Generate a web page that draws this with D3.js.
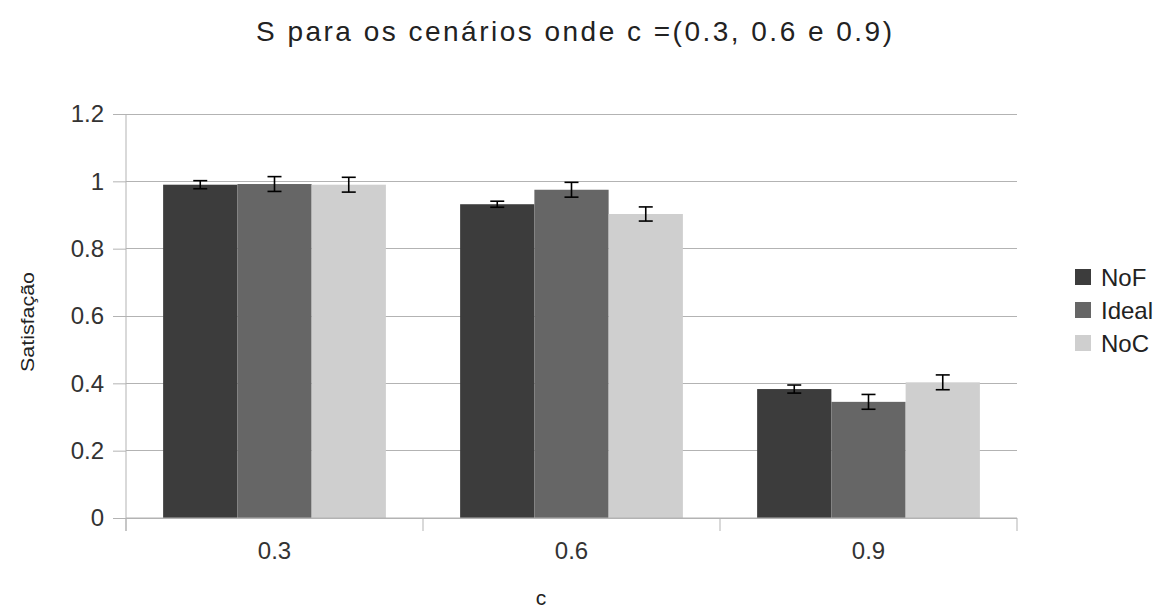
<!DOCTYPE html>
<html><head><meta charset="utf-8">
<script src="https://cdn.jsdelivr.net/npm/d3@7"></script>
<style>body{margin:0;background:#fff;} text{font-family:"Liberation Sans",Arial,sans-serif;}</style>
</head><body>
<svg id="chart" width="1160" height="612"></svg>
<script>
const categories = ["0.3", "0.6", "0.9"];
const seriesNames = ["NoF", "Ideal", "NoC"];
const seriesColors = ["#3c3c3c", "#666666", "#cfcfcf"];
const noF = [0.99, 0.932, 0.383];
const ideal = [0.992, 0.975, 0.345];
const noC = [0.99, 0.903, 0.403];
const noFErr = [0.012, 0.009, 0.012];
const idealErr = [0.022, 0.022, 0.022];
const noCErr = [0.022, 0.021, 0.022];
const yTicks = [0, 0.2, 0.4, 0.6, 0.8, 1, 1.2];
const yTickLabels = ["0", "0.2", "0.4", "0.6", "0.8", "1", "1.2"];

const values = [noF, ideal, noC];
const errs = [noFErr, idealErr, noCErr];

const svg = d3.select("#chart");
const m = {left: 126, right: 1017, top: 114, bottom: 518};

const x0 = d3.scaleBand().domain(categories).range([m.left, m.right]).paddingInner(0).paddingOuter(0);
const x1 = d3.scaleBand().domain(seriesNames).range([0, x0.bandwidth()]).paddingInner(0).paddingOuter(0.5);
const y = d3.scaleLinear().domain([0, 1.2]).range([m.bottom, m.top]);

// gridlines
svg.append("g").selectAll("line").data(yTicks).join("line")
  .attr("x1", m.left).attr("x2", m.right)
  .attr("y1", d => y(d)).attr("y2", d => y(d))
  .attr("stroke", "#b3b3b3").attr("stroke-width", 1).attr("shape-rendering", "crispEdges");

// bars
const groups = svg.append("g").selectAll("g").data(categories).join("g")
  .attr("transform", c => `translate(${x0(c)},0)`);
groups.each(function(c, ci) {
  const g = d3.select(this);
  seriesNames.forEach((s, si) => {
    const v = values[si][ci];
    g.append("rect")
      .attr("x", x1(s)).attr("width", x1.bandwidth())
      .attr("y", y(v)).attr("height", y(0) - y(v))
      .attr("fill", seriesColors[si]);
  });
});
// error bars
groups.each(function(c, ci) {
  const g = d3.select(this);
  seriesNames.forEach((s, si) => {
    const v = values[si][ci], e = errs[si][ci];
    const cx = x1(s) + x1.bandwidth() / 2;
    g.append("line").attr("x1", cx).attr("x2", cx).attr("y1", y(v - e)).attr("y2", y(v + e))
      .attr("stroke", "#000").attr("stroke-width", 1.6);
    [v - e, v + e].forEach(t => g.append("line").attr("x1", cx - 7).attr("x2", cx + 7)
      .attr("y1", y(t)).attr("y2", y(t)).attr("stroke", "#000").attr("stroke-width", 1.6));
  });
});

// y axis
const yAxis = d3.axisLeft(y).tickValues(yTicks).tickSize(13).tickPadding(9)
  .tickFormat((d, i) => yTickLabels[i]);
const ya = svg.append("g").attr("transform", `translate(${m.left},0)`).call(yAxis);
ya.attr("font-size", null).attr("font-family", null);
ya.select(".domain").attr("stroke", "#b3b3b3").attr("d", `M0,${m.top}V${m.bottom + 13}`);
ya.selectAll(".tick line").attr("stroke", "#b3b3b3");
ya.selectAll(".tick text").attr("font-size", 24).attr("fill", "#333");

// x axis
const xa = svg.append("g").attr("transform", `translate(0,${m.bottom})`);
xa.append("line").attr("x1", m.left).attr("x2", m.right).attr("y1", 0).attr("y2", 0).attr("stroke", "#b3b3b3");
const bounds = [m.left, ...categories.map(c => x0(c) + x0.bandwidth())];
xa.selectAll("line.tk").data(bounds).join("line").attr("class", "tk")
  .attr("x1", d => d).attr("x2", d => d).attr("y1", 0).attr("y2", 13).attr("stroke", "#b3b3b3");
xa.selectAll("text").data(categories).join("text")
  .attr("x", c => x0(c) + x0.bandwidth() / 2).attr("y", 41)
  .attr("text-anchor", "middle").attr("font-size", 24).attr("fill", "#333").text(c => c);

// title
svg.append("text").attr("x", 574).attr("y", 41).attr("text-anchor", "middle")
  .attr("font-size", 28).attr("fill", "#222")
  .attr("textLength", 636).attr("lengthAdjust", "spacing")
  .text("S para os cenários onde c =(0.3, 0.6 e 0.9)");
// axis titles
svg.append("text").attr("transform", "translate(34,322) rotate(-90)").attr("text-anchor", "middle")
  .attr("font-size", 19).attr("fill", "#222")
  .attr("textLength", 100).attr("lengthAdjust", "spacingAndGlyphs").text("Satisfação");
svg.append("text").attr("x", 541).attr("y", 605).attr("text-anchor", "middle")
  .attr("font-size", 21).attr("fill", "#222").text("c");

// legend
const leg = svg.append("g").selectAll("g").data(seriesNames).join("g")
  .attr("transform", (d, i) => `translate(1075,${277 + i * 33})`);
leg.append("rect").attr("x", 0).attr("y", -8).attr("width", 16).attr("height", 16).attr("fill", (d, i) => seriesColors[i]);
leg.append("text").attr("x", 26).attr("y", 9).attr("font-size", 24).attr("fill", "#222").text(d => d);
</script>
</body></html>
